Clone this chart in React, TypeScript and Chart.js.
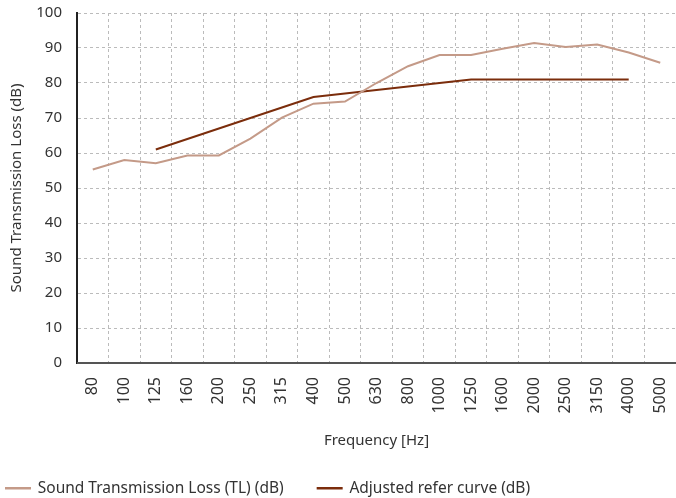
import React, { useEffect, useRef } from "react";
import { Chart, registerables } from "chart.js";

Chart.register(...registerables);

const categories = ["80", "100", "125", "160", "200", "250", "315", "400", "500", "630", "800", "1000", "1250", "1600", "2000", "2500", "3150", "4000", "5000"];
const tlValues = [55.3, 58, 57.1, 59.3, 59.3, 64.1, 70.1, 74.1, 74.7, 80, 84.8, 88, 88, 89.8, 91.4, 90.3, 91, 88.7, 85.8];
const refValues: (number | null)[] = [null, null, 61, 64, 67, 70, 73, 76, 77, 78, 79, 80, 81, 81, 81, 81, 81, 81, null];
const yTicks = [0, 10, 20, 30, 40, 50, 60, 70, 80, 90, 100];
const seriesNames = ["Sound Transmission Loss (TL) (dB)", "Adjusted refer curve (dB)"];

const FONT = "'Noto Sans', sans-serif";
const TXT = "#333333";
const BOTTOM_SHIFT = 8;

export default function App() {
  const ref = useRef<HTMLCanvasElement | null>(null);
  useEffect(() => {
    document.body.style.margin = "0";
    const ctx = ref.current!.getContext("2d")!;
    const chart = new Chart(ctx, {
      type: "line",
      data: {
        labels: categories,
        datasets: [
          {
            label: seriesNames[0],
            data: tlValues,
            borderColor: "#c49a88",
            backgroundColor: "#c49a88",
            borderWidth: 2,
            pointRadius: 0,
            tension: 0,
          },
          {
            label: seriesNames[1],
            data: refValues,
            borderColor: "#7b2d0c",
            backgroundColor: "#7b2d0c",
            borderWidth: 2,
            pointRadius: 0,
            tension: 0,
          },
        ],
      },
      options: {
        responsive: false,
        animation: false,
        layout: { padding: { left: 3, right: 0, top: 13, bottom: -BOTTOM_SHIFT } },
        plugins: {
          legend: {
            position: "bottom",
            align: "start",
            labels: {
              boxWidth: 24,
              boxHeight: 0.5,
              color: TXT,
              font: { family: FONT, size: 15.5 },
              padding: 3,
              generateLabels: (c: any) => {
                const items = Chart.defaults.plugins.legend.labels.generateLabels(c);
                items.forEach((it: any, i: number) => {
                  if (i === 0) it.text = it.text + "\u2003\u2003";
                });
                return items;
              },
            },
          },
          tooltip: { enabled: false },
        },
        scales: {
          x: {
            offset: true,
            grid: {
              offset: true,
              color: "#bbbbbb",
              drawTicks: false,
            },
            border: { display: true, color: "#555", width: 2, dash: [3, 3] },
            ticks: {
              color: TXT,
              font: { family: FONT, size: 16 },
              minRotation: 90,
              maxRotation: 90,
              padding: 14,
              autoSkip: false,
            },
            title: {
              display: true,
              text: "Frequency [Hz]",
              color: TXT,
              font: { family: FONT, size: 15 },
              padding: { top: 12, bottom: 28 },
            },
            afterFit: (axis: any) => {
              axis.paddingLeft = 0;
              axis.paddingRight = 0;
              const legH = axis.chart.legend ? axis.chart.legend.height : 20;
              axis.height = axis.chart.height + BOTTOM_SHIFT - 363 - legH;
            },
          },
          y: {
            min: 0,
            max: 100,
            afterBuildTicks: (axis: any) => {
              axis.ticks = yTicks.map((v) => ({ value: v }));
            },
            grid: {
              color: "#bbbbbb",
              drawTicks: false,
            },
            border: { display: true, color: "#222", width: 2, dash: [3, 3] },
            ticks: {
              color: TXT,
              font: { family: FONT, size: 15 },
              padding: 15,
            },
            title: {
              display: true,
              text: "Sound Transmission Loss (dB)",
              color: TXT,
              font: { family: FONT, size: 15 },
              padding: { top: 5, bottom: 8 },
            },
            afterFit: (axis: any) => {
              axis.width = 74;
              axis.paddingTop = 0;
              axis.paddingBottom = 0;
            },
          },
        },
      },
      plugins: [
        {
          id: "solidAxes",
          afterDraw(c: any) {
            const { ctx: g, chartArea } = c;
            g.save();
            g.setLineDash([]);
            g.strokeStyle = "#222";
            g.lineWidth = 1.5;
            g.beginPath();
            g.moveTo(chartArea.left, chartArea.top);
            g.lineTo(chartArea.left, chartArea.bottom);
            g.stroke();
            g.strokeStyle = "#555";
            g.lineWidth = 2;
            g.beginPath();
            g.moveTo(chartArea.left, chartArea.bottom);
            g.lineTo(chartArea.right, chartArea.bottom);
            g.stroke();
            g.restore();
          },
        },
      ],
    } as any);
    return () => chart.destroy();
  }, []);
  return <canvas ref={ref} width={676} height={498} style={{ display: "block" }} />;
}
